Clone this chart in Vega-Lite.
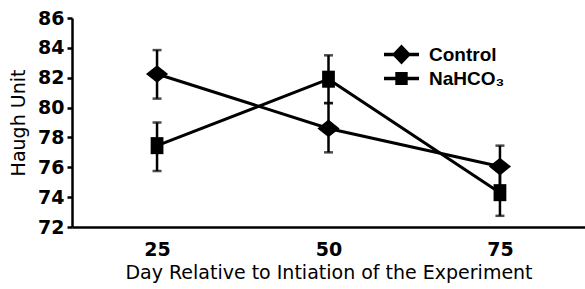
{
  "$schema": "https://vega.github.io/schema/vega-lite/v6.json",
  "autosize": "none",
  "width": 513,
  "height": 209,
  "padding": {"left": 72, "top": 18, "right": 0, "bottom": 62},
  "background": "white",
  "config": {
    "view": {"stroke": null},
    "font": "DejaVu Sans",
    "axis": {"grid": false, "labelOverlap": false, "domainColor": "black", "domainWidth": 2.5, "tickColor": "black", "tickWidth": 2.5, "labelColor": "black", "titleColor": "black", "labelFont": "DejaVu Sans", "titleFont": "DejaVu Sans"},
    "axisY": {"values": [72, 74, 76, 78, 80, 82, 84, 86], "tickSize": 5, "labelFontSize": 19, "labelFontWeight": "bold", "labelPadding": 3, "titleFontSize": 19, "titleFontWeight": "normal", "titlePadding": 9}
  },
  "data": {
    "values": [
      {"day": 25, "group": "Control", "mean": 82.25, "lo": 80.6, "hi": 83.85},
      {"day": 50, "group": "Control", "mean": 78.6, "lo": 77.0, "hi": 80.3},
      {"day": 75, "group": "Control", "mean": 76.05, "lo": 74.6, "hi": 77.45},
      {"day": 25, "group": "NaHCO₃", "mean": 77.45, "lo": 75.75, "hi": 79.0},
      {"day": 50, "group": "NaHCO₃", "mean": 81.9, "lo": 80.3, "hi": 83.5},
      {"day": 75, "group": "NaHCO₃", "mean": 74.3, "lo": 72.75, "hi": 75.8}
    ]
  },
  "encoding": {
    "x": {
      "field": "day", "type": "quantitative",
      "scale": {"domain": [12.6, 87.4], "nice": false, "zero": false},
      "axis": {"values": [25, 50, 75], "ticks": false, "labelFontSize": 19, "labelFontWeight": "bold", "labelPadding": 13, "title": "Day Relative to Intiation of the Experiment", "titleFontSize": 19, "titleFontWeight": "normal", "titlePadding": 4}
    }
  },
  "layer": [
    {
      "mark": {"type": "rule", "color": "black", "strokeWidth": 2.5},
      "encoding": {
        "y": {"field": "lo", "type": "quantitative", "scale": {"domain": [72, 86], "nice": false, "zero": false}, "title": "Haugh Unit"},
        "y2": {"field": "hi"}
      }
    },
    {
      "mark": {"type": "tick", "orient": "horizontal", "color": "black", "size": 9, "thickness": 2.5},
      "encoding": {"y": {"field": "lo", "type": "quantitative", "title": "Haugh Unit"}}
    },
    {
      "mark": {"type": "tick", "orient": "horizontal", "color": "black", "size": 9, "thickness": 2.5},
      "encoding": {"y": {"field": "hi", "type": "quantitative", "title": "Haugh Unit"}}
    },
    {
      "mark": {"type": "line", "color": "black", "strokeWidth": 3},
      "encoding": {
        "y": {"field": "mean", "type": "quantitative", "title": "Haugh Unit"},
        "detail": {"field": "group"}
      }
    },
    {
      "mark": {"type": "point", "filled": true, "color": "black", "opacity": 1},
      "encoding": {
        "y": {"field": "mean", "type": "quantitative", "title": "Haugh Unit"},
        "shape": {"field": "group", "type": "nominal", "scale": {"domain": ["Control", "NaHCO₃"], "range": ["M0,-0.8L1,0L0,0.8L-1,0Z", "M-0.75,-1H0.75V1H-0.75Z"]}, "legend": null},
        "size": {"field": "group", "type": "nominal", "scale": {"domain": ["Control", "NaHCO₃"], "range": [490, 290]}, "legend": null}
      }
    },
    {
      "mark": {"type": "point", "filled": true, "color": "black", "opacity": 0, "size": 400},
      "encoding": {
        "y": {"field": "mean", "type": "quantitative", "title": "Haugh Unit"},
        "shape": {"field": "group", "type": "nominal", "scale": {"domain": ["Control", "NaHCO₃"], "range": ["M-1.75,-0.17H1.75V0.17H-1.75ZM0,-1L0.95,0L0,1L-0.95,0Z", "M-1.75,-0.17H1.75V0.17H-1.75ZM-0.62,-0.65H0.62V0.65H-0.62Z"]},
          "legend": {"orient": "none", "legendX": 319.5, "legendY": 26.5, "title": null, "padding": 0, "symbolOpacity": 1, "symbolStrokeWidth": 0, "symbolFillColor": "black", "symbolSize": 400, "labelFont": "Liberation Sans", "labelFontSize": 19, "labelFontWeight": "bold", "labelColor": "black", "labelOffset": 17.5, "rowPadding": 4}}
      }
    }
  ],
  "resolve": {"scale": {"shape": "independent", "size": "independent"}}
}
